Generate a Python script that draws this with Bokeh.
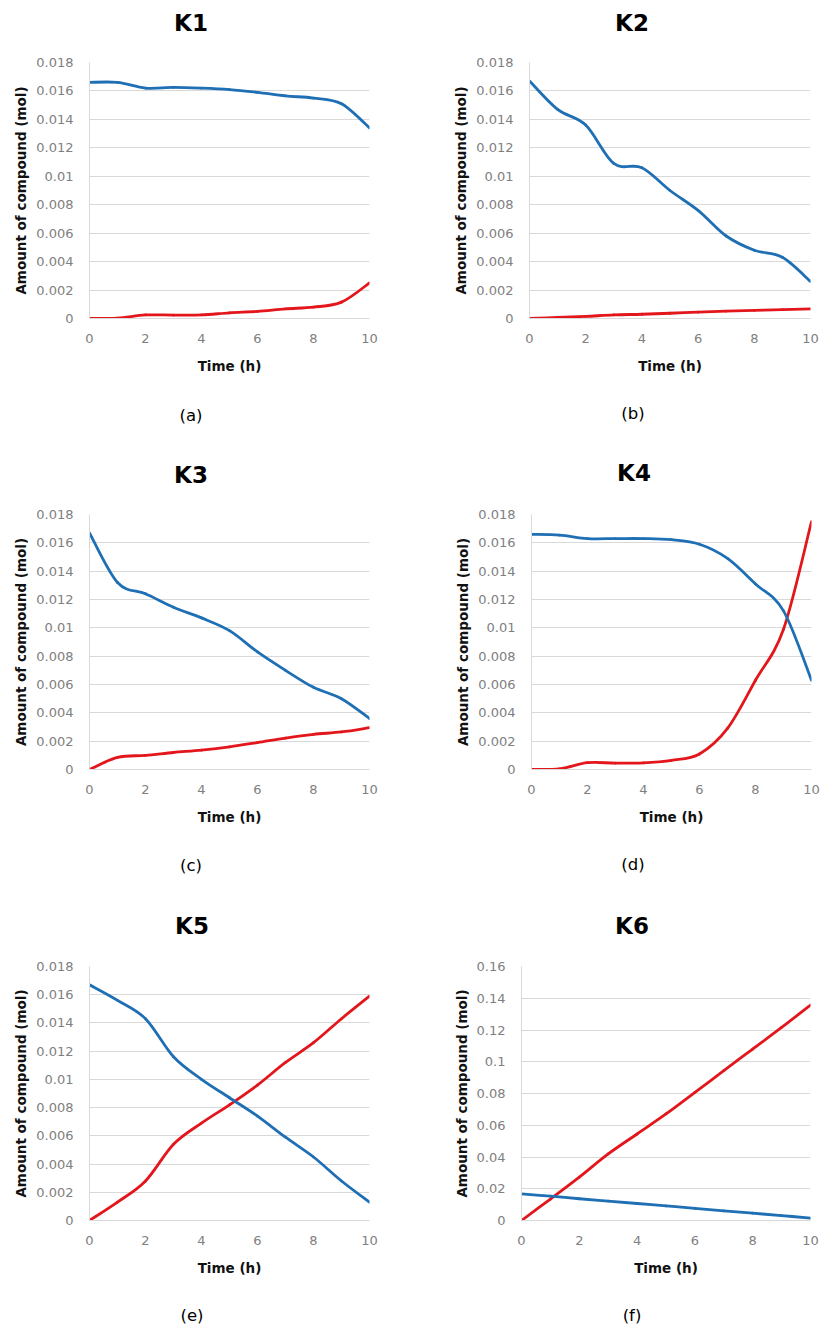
from bokeh.plotting import figure
from bokeh.layouts import column, row
from bokeh.models import Range1d, FixedTicker, CustomJSTickFormatter, Div
from bokeh.embed import file_html
from bokeh.resources import INLINE

# ---------------- data ----------------
hours = [0, 1, 2, 3, 4, 5, 6, 7, 8, 9, 10]
x_ticks = [0, 2, 4, 6, 8, 10]
y_ticks_small = [0, 0.002, 0.004, 0.006, 0.008, 0.01, 0.012, 0.014, 0.016, 0.018]
y_ticks_large = [0, 0.02, 0.04, 0.06, 0.08, 0.1, 0.12, 0.14, 0.16]

panel_titles = ["K1", "K2", "K3", "K4", "K5", "K6"]
panel_captions = ["(a)", "(b)", "(c)", "(d)", "(e)", "(f)"]
x_label = "Time (h)"
y_label = "Amount of compound (mol)"

k1_blue = [0.0166, 0.0166, 0.0162, 0.01625, 0.0162, 0.0161, 0.0159, 0.01565, 0.0155, 0.0151, 0.0134]
k1_red = [0.0, 0.00003, 0.00025, 0.00024, 0.00025, 0.0004, 0.0005, 0.00068, 0.0008, 0.00115, 0.0025]

k2_blue = [0.0167, 0.0147, 0.0136, 0.0109, 0.0106, 0.0090, 0.0076, 0.0058, 0.0048, 0.0043, 0.0026]
k2_red = [0.0, 0.00007, 0.00015, 0.00025, 0.0003, 0.00037, 0.00045, 0.00052, 0.00057, 0.00062, 0.00068]

k3_blue = [0.0167, 0.0132, 0.0124, 0.01145, 0.0107, 0.0098, 0.0083, 0.0070, 0.0058, 0.0050, 0.0036]
k3_red = [0.0, 0.00085, 0.001, 0.0012, 0.00137, 0.0016, 0.0019, 0.00222, 0.00248, 0.00265, 0.00295]

k4_blue = [0.0166, 0.01655, 0.0163, 0.0163, 0.0163, 0.01622, 0.0159, 0.0149, 0.0131, 0.0112, 0.0063]
k4_red = [0.0, 0.00005, 0.00048, 0.00045, 0.00047, 0.00065, 0.0011, 0.0029, 0.0063, 0.0099, 0.0175]

k5_blue = [0.0167, 0.0156, 0.0143, 0.0116, 0.0100, 0.0087, 0.0074, 0.0059, 0.0045, 0.0028, 0.0013]
k5_red = [0.0, 0.0013, 0.0028, 0.0054, 0.0069, 0.0082, 0.0096, 0.0112, 0.0126, 0.0143, 0.0159]

k6_blue = [0.0168, 0.0153, 0.0137, 0.0122, 0.0107, 0.0092, 0.0077, 0.0061, 0.0046, 0.0031, 0.0015]
k6_red = [0.0, 0.0135, 0.0273, 0.0419, 0.0545, 0.0671, 0.0807, 0.0944, 0.108, 0.1216, 0.1357]

# ---------------- style ----------------
BLUE = "#1f6fb4"
RED = "#e3161c"
GRID = "#d9d9d9"
TICK_TXT = "#808080"
FONT = "DejaVu Sans"


def smooth_segments(xs, ys, t=1.0 / 6.0):
    """Bezier control points for a smoothed (Excel-style) line through the data."""
    n = len(xs)
    seg = dict(x0=[], y0=[], x1=[], y1=[], cx0=[], cy0=[], cx1=[], cy1=[])
    for i in range(n - 1):
        xp, yp = (xs[i - 1], ys[i - 1]) if i > 0 else (xs[i], ys[i])
        xn, yn = (xs[i + 2], ys[i + 2]) if i + 2 < n else (xs[i + 1], ys[i + 1])
        seg["x0"].append(xs[i]); seg["y0"].append(ys[i])
        seg["x1"].append(xs[i + 1]); seg["y1"].append(ys[i + 1])
        seg["cx0"].append(xs[i] + (xs[i + 1] - xp) * t)
        seg["cy0"].append(ys[i] + (ys[i + 1] - yp) * t)
        seg["cx1"].append(xs[i + 1] - (xn - xs[i]) * t)
        seg["cy1"].append(ys[i + 1] - (yn - ys[i]) * t)
    return seg


def make_chart(blue, red, y_ticks, width, height, bl, br, bt, bb):
    p = figure(width=width, height=height,
               x_range=Range1d(0, 10), y_range=Range1d(0, y_ticks[-1]),
               output_backend="svg", toolbar_location=None,
               min_border_left=bl, min_border_right=br,
               min_border_top=bt, min_border_bottom=bb)
    p.title.visible = False
    p.outline_line_color = None
    p.background_fill_color = "white"
    p.border_fill_color = "white"

    p.xaxis.ticker = FixedTicker(ticks=x_ticks)
    p.yaxis.ticker = FixedTicker(ticks=y_ticks)
    p.yaxis.formatter = CustomJSTickFormatter(
        code="return tick.toFixed(3).replace(/\\.?0+$/, '');")
    for ax in p.axis:
        ax.major_tick_line_color = None
        ax.minor_tick_line_color = None
        ax.major_tick_out = 0
        ax.major_tick_in = 0
        ax.axis_line_color = GRID
        ax.major_label_text_color = TICK_TXT
        ax.major_label_text_font = FONT
        ax.major_label_text_font_size = "13px"
        ax.axis_label_text_font = FONT
        ax.axis_label_text_font_style = "bold"
        ax.axis_label_text_font_size = "13.5px"
        ax.axis_label_text_color = "#111111"
    p.xaxis.axis_label = x_label
    p.yaxis.axis_label = y_label
    p.xaxis.major_label_standoff = 15
    p.xaxis.axis_label_standoff = 12
    p.yaxis.major_label_standoff = 16
    p.yaxis.axis_label_standoff = 4

    p.xgrid.grid_line_color = None
    p.ygrid.grid_line_color = GRID
    p.ygrid.grid_line_width = 1

    for series, color in ((red, RED), (blue, BLUE)):
        s = smooth_segments(hours, series)
        p.bezier(x0=s["x0"], y0=s["y0"], x1=s["x1"], y1=s["y1"],
                 cx0=s["cx0"], cy0=s["cy0"], cx1=s["cx1"], cy1=s["cy1"],
                 line_color=color, line_width=2.8, line_cap="round")
    return p


def text_div(text, width, height, cx, pad_top, size, bold, line_h):
    weight = "bold" if bold else "normal"
    html = (f'<div style="margin-left:{cx - 60}px; width:120px; text-align:center; '
            f'padding-top:{pad_top}px; line-height:{line_h}px; font-family:\'{FONT}\'; '
            f'font-size:{size}px; font-weight:{weight}; color:#000000; white-space:nowrap;">'
            f'{text}</div>')
    return Div(text=html, width=width, height=height, margin=(0, 0, 0, 0))


def panel(idx, blue, red, y_ticks, col_w, bl, br, title_h, title_cx, title_pad,
          fig_h, bb, cap_h, cap_cx, cap_pad):
    t = text_div(panel_titles[idx], col_w, title_h, title_cx, title_pad, 23, True, 24)
    p = make_chart(blue, red, y_ticks, col_w, fig_h, bl, br, 6, bb)
    c = text_div(panel_captions[idx], col_w, cap_h, cap_cx, cap_pad, 16.5, False, 20)
    return column(t, p, c, spacing=0)


LW, RW = 418, 402
pa = panel(0, k1_blue, k1_red, y_ticks_small, LW, 89, 49, 56, 191, 11, 332, 70, 72, 191, 18)
pb = panel(1, k2_blue, k2_red, y_ticks_small, RW, 111, 10, 56, 214, 11, 332, 70, 72, 215, 16)
pc = panel(2, k3_blue, k3_red, y_ticks_small, LW, 89, 49, 48, 191, 3, 331, 70, 73, 191, 17)
pd = panel(3, k4_blue, k4_red, y_ticks_small, RW, 113, 9, 48, 216, 1, 331, 70, 73, 215, 16)
pe = panel(4, k5_blue, k5_red, y_ticks_small, LW, 89, 49, 48, 192, 2, 330, 70, 38, 192, 16)
pf = panel(5, k6_blue, k6_red, y_ticks_large, RW, 103, 10, 48, 214, 2, 330, 70, 38, 214, 16)

layout = column(row(pa, pb, spacing=0), row(pc, pd, spacing=0), row(pe, pf, spacing=0), spacing=0)

open("out.html", "w").write(file_html(layout, INLINE))
